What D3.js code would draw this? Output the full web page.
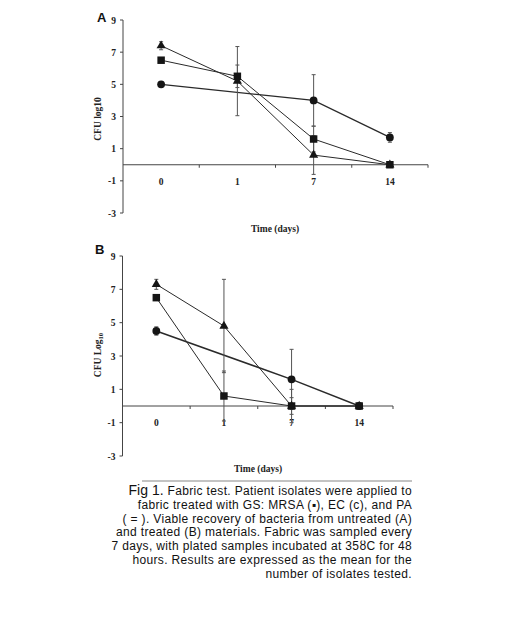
<!DOCTYPE html>
<html>
<head>
<meta charset="utf-8">
<script src="https://cdn.jsdelivr.net/npm/d3@7"></script>
<style>
  body { margin: 0; background: #fff; }
  svg { display: block; }
</style>
</head>
<body>
<svg id="chart" width="520" height="620"></svg>
<script>
const days = ["0", "1", "7", "14"];
const yTicks = [9, 7, 5, 3, 1, -1, -3];

// panel A (untreated)
const aTriangle = [7.4, 5.2, 0.6, 0];
const aTriangleErr = [0.25, 2.15, 1.2, 0];
const aSquare = [6.5, 5.5, 1.6, 0];
const aSquareErr = [0, 0.7, 0.8, 0];
const aCircle = [5.0, null, 4.0, 1.7];
const aCircleErr = [0, 0, 1.6, 0.3];

// panel B (treated)
const bTriangle = [7.3, 4.8, 0, 0];
const bTriangleErr = [0.3, 2.8, 1.0, 0];
const bSquare = [6.5, 0.6, 0, 0];
const bSquareErr = [0, 1.5, 0.5, 0];
const bCircle = [4.5, null, 1.6, 0];
const bCircleErr = [0.25, 0, 1.8, 0];

const captionLines = [
  "fabric treated with GS: MRSA (\u25aa), EC (c), and PA",
  "( = ). Viable recovery of bacteria from untreated (A)",
  "and treated (B) materials. Fabric was sampled every",
  "7 days, with plated samples incubated at 35\u0223C for 48",
  "hours. Results are expressed as the mean for the",
  "number of isolates tested.",
];

const svg = d3.select("#chart");
const serif = "'Liberation Serif', 'Times New Roman', serif";

function panel(opts) {
  const { letter, top, bottom, left, right, letterX, letterY, titleX, titleY, yTitleX, yTitleY, sub, series } = opts;
  const g = svg.append("g");

  const x = d3.scaleBand().domain(days).range([left, right]);
  const y = d3.scaleLinear().domain([-3, 9]).range([bottom, top]);

  // y axis
  g.append("line")
    .attr("x1", left).attr("x2", left)
    .attr("y1", y(9)).attr("y2", y(-3))
    .attr("stroke", "#444").attr("stroke-width", 1);

  g.selectAll(".ytick").data(yTicks).enter()
    .append("line")
    .attr("x1", left - 3).attr("x2", left)
    .attr("y1", d => y(d)).attr("y2", d => y(d))
    .attr("stroke", "#444");

  g.selectAll(".ylab").data(yTicks).enter()
    .append("text")
    .text(d => d)
    .attr("x", left - 7)
    .attr("y", d => y(d) + 3.5)
    .attr("text-anchor", "end")
    .style("font-family", serif)
    .style("font-weight", "bold")
    .style("font-size", "9.5px")
    .attr("fill", "#222");

  // x axis at zero
  g.append("line")
    .attr("x1", left).attr("x2", right)
    .attr("y1", y(0)).attr("y2", y(0))
    .attr("stroke", "#444");

  g.selectAll(".xtick").data(days).enter()
    .append("line")
    .attr("x1", d => x(d) + x.bandwidth())
    .attr("x2", d => x(d) + x.bandwidth())
    .attr("y1", y(0)).attr("y2", y(0) + 3)
    .attr("stroke", "#444");

  g.selectAll(".xlab").data(days).enter()
    .append("text")
    .text(d => d)
    .attr("x", d => x(d) + x.bandwidth() / 2)
    .attr("y", y(0) + 20)
    .attr("text-anchor", "middle")
    .style("font-family", serif)
    .style("font-weight", "bold")
    .style("font-size", "9.5px")
    .attr("fill", "#222");

  g.append("text")
    .text("Time (days)")
    .attr("x", titleX).attr("y", titleY)
    .attr("text-anchor", "middle")
    .style("font-family", serif)
    .style("font-weight", "bold")
    .style("font-size", "9.5px")
    .attr("fill", "#222");

  const yt = g.append("text")
    .attr("transform", `translate(${yTitleX},${yTitleY}) rotate(-90)`)
    .attr("text-anchor", "middle")
    .style("font-family", serif)
    .style("font-weight", "bold")
    .style("font-size", "9.5px")
    .attr("fill", "#222");
  if (sub) {
    yt.append("tspan").text("CFU Log");
    yt.append("tspan").text("10").attr("dy", 2).style("font-size", "6.5px");
  } else {
    yt.text("CFU log10");
  }

  g.append("text")
    .text(letter)
    .attr("x", letterX).attr("y", letterY)
    .style("font-family", "'Liberation Sans', Arial, sans-serif")
    .style("font-weight", "bold")
    .style("font-size", "13px")
    .attr("fill", "#111");

  const cx = i => x(days[i]) + x.bandwidth() / 2;

  // lines
  series.forEach(s => {
    const pts = s.values.map((v, i) => ({ i, v })).filter(p => p.v !== null);
    g.append("path")
      .datum(pts)
      .attr("d", d3.line().x(p => cx(p.i)).y(p => y(p.v)))
      .attr("fill", "none")
      .attr("stroke", "#2a2a2a")
      .attr("stroke-width", s.width);
  });

  // error bars
  series.forEach(s => {
    const errs = s.values.map((v, i) => ({ i, v, e: s.err[i] })).filter(p => p.v !== null && p.e > 0);
    const eb = g.selectAll(null).data(errs).enter().append("g");
    eb.append("line")
      .attr("x1", p => cx(p.i)).attr("x2", p => cx(p.i))
      .attr("y1", p => y(p.v + p.e)).attr("y2", p => y(p.v - p.e))
      .attr("stroke", "#555").attr("stroke-width", 1);
    [1, -1].forEach(sign => {
      eb.append("line")
        .attr("x1", p => cx(p.i) - 2).attr("x2", p => cx(p.i) + 2)
        .attr("y1", p => y(p.v + sign * p.e)).attr("y2", p => y(p.v + sign * p.e))
        .attr("stroke", "#555").attr("stroke-width", 1);
    });
  });

  // markers
  series.forEach(s => {
    const pts = s.values.map((v, i) => ({ i, v })).filter(p => p.v !== null);
    g.selectAll(null).data(pts).enter()
      .append("path")
      .attr("transform", p => `translate(${cx(p.i)},${y(p.v)})`)
      .attr("d", d3.symbol().type(s.symbol).size(s.size))
      .attr("fill", "#151515");
  });
}

panel({
  letter: "A", top: 20, bottom: 213, left: 123, right: 428,
  letterX: 97, letterY: 22, titleX: 275, titleY: 232, yTitleX: 101, yTitleY: 119, sub: false,
  series: [
    { values: aCircle, err: aCircleErr, symbol: d3.symbolCircle, size: 48, width: 1.3 },
    { values: aSquare, err: aSquareErr, symbol: d3.symbolSquare, size: 56, width: 1 },
    { values: aTriangle, err: aTriangleErr, symbol: d3.symbolTriangle, size: 36, width: 1 },
  ],
});

panel({
  letter: "B", top: 256, bottom: 456, left: 122.5, right: 393,
  letterX: 95, letterY: 254, titleX: 258, titleY: 472, yTitleX: 101, yTitleY: 355, sub: true,
  series: [
    { values: bCircle, err: bCircleErr, symbol: d3.symbolCircle, size: 48, width: 1.5 },
    { values: bSquare, err: bSquareErr, symbol: d3.symbolSquare, size: 56, width: 1 },
    { values: bTriangle, err: bTriangleErr, symbol: d3.symbolTriangle, size: 36, width: 1 },
  ],
});

// caption
svg.append("line")
  .attr("x1", 142).attr("x2", 412)
  .attr("y1", 481).attr("y2", 481)
  .attr("stroke", "#888").attr("stroke-width", 1.2);

const capFont = "'Liberation Sans', Arial, sans-serif";
const first = svg.append("text")
  .attr("x", 412).attr("y", 495)
  .attr("text-anchor", "end")
  .style("font-family", capFont)
  .attr("fill", "#111");
first.append("tspan").text("Fig 1. ")
  .style("font-size", "14px");
first.append("tspan").text("Fabric test. Patient isolates were applied to")
  .style("font-size", "12px")
  .style("letter-spacing", "0.35px");

svg.selectAll(".cap").data(captionLines).enter()
  .append("text")
  .text(d => d)
  .attr("x", 412)
  .attr("y", (d, i) => 508.8 + i * 13.8)
  .attr("text-anchor", "end")
  .style("font-family", capFont)
  .style("font-size", "12px")
  .style("letter-spacing", "0.35px")
  .attr("fill", "#111");
</script>
</body>
</html>
